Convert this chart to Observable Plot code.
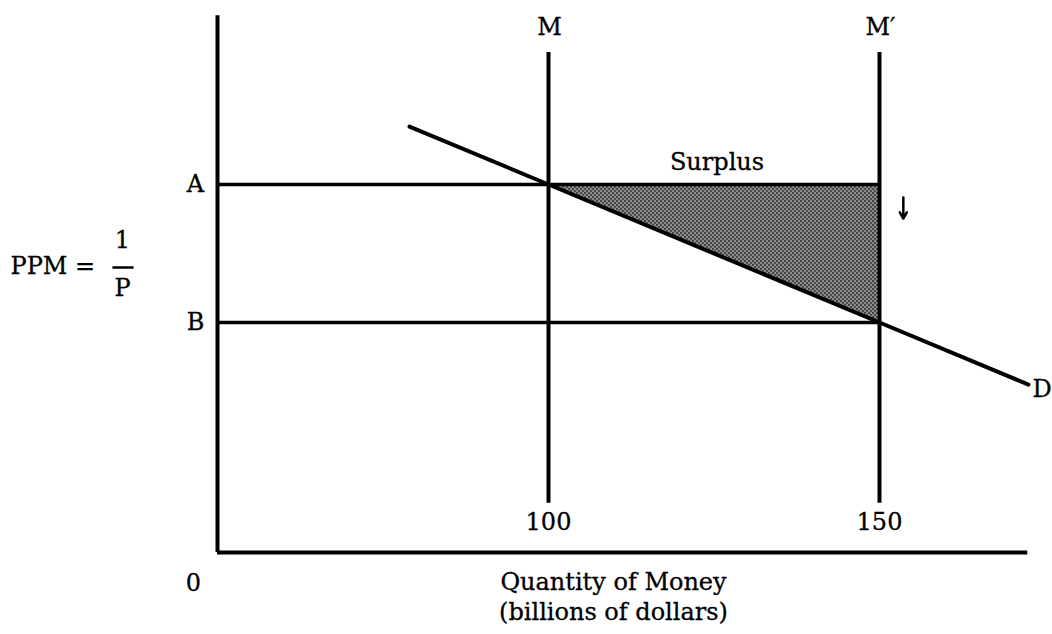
<!DOCTYPE html>
<html>
<head>
<meta charset="utf-8">
<script src="https://cdn.jsdelivr.net/npm/d3@7"></script>
<script src="https://cdn.jsdelivr.net/npm/@observablehq/plot@0.6"></script>
<style>
  html, body { margin: 0; padding: 0; background: #fff; }
  #chart svg { display: block; }
</style>
</head>
<body>
<div id="chart"></div>
<script>
// ---- data ----
const levelNames = ["A", "B"];
const levelValues = [8, 5];                 // PPM = 1/P levels (arbitrary units)
const supplyNames = ["M", "M\u2032"];
const supplyValues = [100, 150];            // billions of dollars
const xTicks = [100, 150];
const demandQ = [79, 100, 150, 172.5];
const demandP = [9.26, 8, 5, 3.65];
const originQ = 50;                         // axis origin (broken scale, labelled 0)
const axisEndQ = 172.4;
const axisTopP = 11.67;
const supplyTopP = 10.87;
const supplyBottomP = 1.07;
const arrowQ = 153.6;
const arrowFrom = 7.72;
const arrowTo = 7.26;

const levels = levelNames.map((n, i) => ({name: n, p: levelValues[i]}));
const supplies = supplyNames.map((n, i) => ({name: n, q: supplyValues[i]}));
const demand = demandQ.map((q, i) => ({q, p: demandP[i]}));
const surplus = [
  {q: supplyValues[0], lo: levelValues[0], hi: levelValues[0]},
  {q: supplyValues[1], lo: levelValues[1], hi: levelValues[0]}
];

const font = "'DejaVu Serif', 'Liberation Serif', serif";
const midP = (levelValues[0] + levelValues[1]) / 2;
const T = {fontSize: 24, fill: "#000", stroke: "#000", strokeWidth: 0.3, fontFamily: font};

const chart = Plot.plot({
  width: 1052,
  height: 634,
  margin: 0,
  x: {domain: [100, 150], range: [548, 879], axis: null},
  y: {domain: [0, 8], range: [552, 184], axis: null},
  style: {fontFamily: font, background: "#fff", color: "#000"},
  marks: [
    // shaded surplus triangle
    Plot.areaY(surplus, {x: "q", y1: "lo", y2: "hi", fill: "url(#stipple)", curve: "linear"}),
    // axes
    Plot.ruleY([0], {x1: originQ, x2: axisEndQ, stroke: "#000", strokeWidth: 4}),
    Plot.ruleX([originQ], {y1: 0, y2: axisTopP, stroke: "#000", strokeWidth: 4}),
    // price levels A and B
    Plot.ruleY(levels, {y: "p", x1: originQ, x2: supplyValues[1], stroke: "#000", strokeWidth: 3.5}),
    // money supply lines M and M'
    Plot.ruleX(supplies, {x: "q", y1: supplyBottomP, y2: supplyTopP, stroke: "#000", strokeWidth: 4}),
    // demand line
    Plot.line(demand, {x: "q", y: "p", stroke: "#000", strokeWidth: 4}),
    // arrow
    Plot.arrow([{q: arrowQ, a: arrowFrom, b: arrowTo}], {x1: "q", x2: "q", y1: "a", y2: "b", stroke: "#000", strokeWidth: 2.5, headLength: 9, headAngle: 60}),
    // labels
    Plot.text(supplies, {x: "q", y: supplyTopP, text: "name", dy: -25, dx: 1, ...T}),
    Plot.text(levels, {x: originQ, y: "p", text: "name", dx: -22, ...T}),
    Plot.text(xTicks, {x: d => d, y: 0, text: d => String(d), dy: -30, ...T}),
    Plot.text(["D"], {x: demandQ[3], y: demandP[3], text: d => d, dx: 4, dy: 5, textAnchor: "start", ...T}),
    Plot.text(["Surplus"], {x: 125, y: levelValues[0], text: d => d, dy: -22, dx: 3, ...T}),
    Plot.text(["0"], {x: originQ, y: 0, text: d => d, dx: -24, dy: 31, ...T}),
    Plot.text(["Quantity of Money"], {x: originQ, y: 0, text: d => d, dx: 396, dy: 30, ...T}),
    Plot.text(["(billions of dollars)"], {x: originQ, y: 0, text: d => d, dx: 396, dy: 60, ...T}),
    // PPM = 1/P
    Plot.text(["PPM ="], {x: originQ, y: midP, text: d => d, dx: -207, dy: 13, textAnchor: "start", ...T}),
    Plot.text(["1"], {x: originQ, y: midP, text: d => d, dx: -95, dy: -13, ...T}),
    Plot.text(["P"], {x: originQ, y: midP, text: d => d, dx: -95, dy: 35, ...T}),
    Plot.ruleY([midP], {x1: 34.2, x2: 37.4, dy: 14, stroke: "#000", strokeWidth: 2.5})
  ]
});

// stipple pattern for the shaded area
const svgNS = "http://www.w3.org/2000/svg";
const defs = document.createElementNS(svgNS, "defs");
defs.innerHTML = `
  <pattern id="stipple" width="4" height="4" patternUnits="userSpaceOnUse">
    <rect width="4" height="4" fill="#8c8c8c"/>
    <rect x="0" y="0" width="2" height="2" fill="#444"/>
    <rect x="2" y="2" width="2" height="2" fill="#4c4c4c"/>
  </pattern>`;
chart.insertBefore(defs, chart.firstChild);

document.getElementById("chart").appendChild(chart);
</script>
</body>
</html>
